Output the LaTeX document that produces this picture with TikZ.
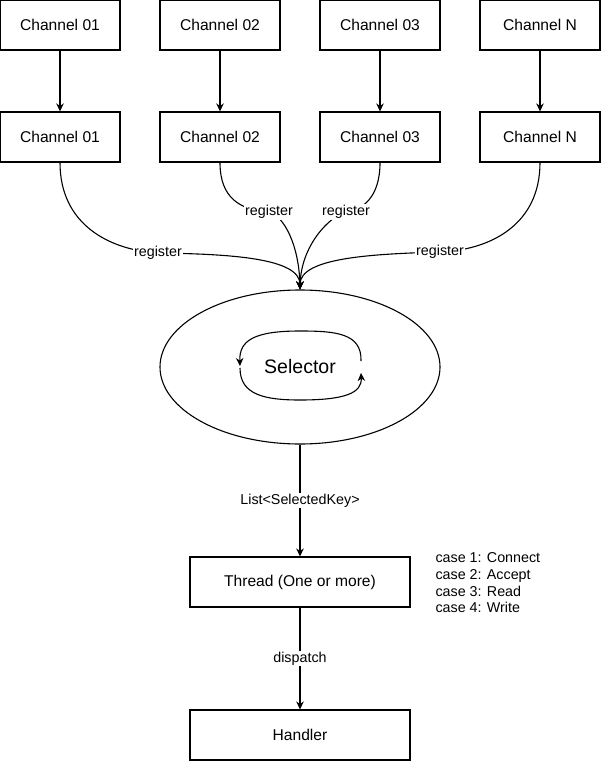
\documentclass[tikz,border=0pt]{standalone}
\usepackage{fontspec}
\setmainfont{Liberation Sans}
\usetikzlibrary{arrows.meta,shapes.geometric}
\begin{document}
\begin{tikzpicture}[x=1pt,y=-1pt,line width=1.1pt,
  >={Stealth[length=8pt,width=7.5pt,inset=2.5pt]},
  box/.style={draw,rectangle,minimum width=120pt,minimum height=50pt,inner sep=0pt,font=\fontsize{15.6}{18}\selectfont},
  widebox/.style={box,minimum width=220pt},
  lbl/.style={fill=white,inner sep=1pt,font=\fontsize{14.3}{17}\selectfont},
  note/.style={align=left,inner sep=0pt,font=\fontsize{14.3}{16.7}\selectfont}]
\useasboundingbox (0,0) rectangle (602,762);

% top row
\node[box] (a1) at (60,25) {Channel 01};
\node[box] (a2) at (220,25) {Channel 02};
\node[box] (a3) at (380,25) {Channel 03};
\node[box] (a4) at (540,25) {Channel N};
% second row
\node[box] (b1) at (60,137) {Channel 01};
\node[box] (b2) at (220,137) {Channel 02};
\node[box] (b3) at (380,137) {Channel 03};
\node[box] (b4) at (540,137) {Channel N};

\foreach \i in {1,2,3,4} \draw[->] (a\i) -- (b\i);

% selector
\node[draw,ellipse,minimum width=280pt,minimum height=154pt,inner sep=0pt,
  font=\fontsize{19.5}{23}\selectfont] (sel) at (300,367) {Selector};

% register curves
\draw[->] (b1.south) .. controls (60,225) and (110,250) .. (158,253) node[lbl]{register}
  .. controls (230,254) and (300,258) .. (sel.north);
\draw[->] (b2.south) .. controls (220,198) and (240,210) .. (269,212) node[lbl]{register}
  .. controls (284,216) and (299,245) .. (sel.north);
\draw[->] (b3.south) .. controls (380,198) and (362,210) .. (346,212) node[lbl]{register}
  .. controls (330,216) and (301,245) .. (sel.north);
\draw[->] (b4.south) .. controls (540,225) and (490,250) .. (440,252) node[lbl]{register}
  .. controls (370,254) and (300,258) .. (sel.north);

% inner loop
\coordinate (lr1) at (361,361);
\coordinate (ll1) at (240,366);
\coordinate (ll2) at (240,368);
\coordinate (lr2) at (361,373);
\draw[->] (lr1) .. controls (362,333) and (335,331) .. (300,331)
  .. controls (255,331) and (239,340) .. (ll1);
\draw[->] (ll2) .. controls (240,395) and (265,400) .. (300,400)
  .. controls (345,400) and (362,393) .. (lr2);

% thread and handler
\node[widebox] (thr) at (300,582) {Thread (One or more)};
\node[widebox] (hdl) at (300,735) {Handler};
\draw[->] (sel.south) -- node[lbl]{List<SelectedKey>} (thr.north);
\draw[->] (thr.south) -- node[lbl]{dispatch} (hdl.north);

\node[note,anchor=west] (cases) at (435,583) {case 1: Connect\\case 2: Accept\\case 3: Read\\case 4: Write};
\end{tikzpicture}
\end{document}
